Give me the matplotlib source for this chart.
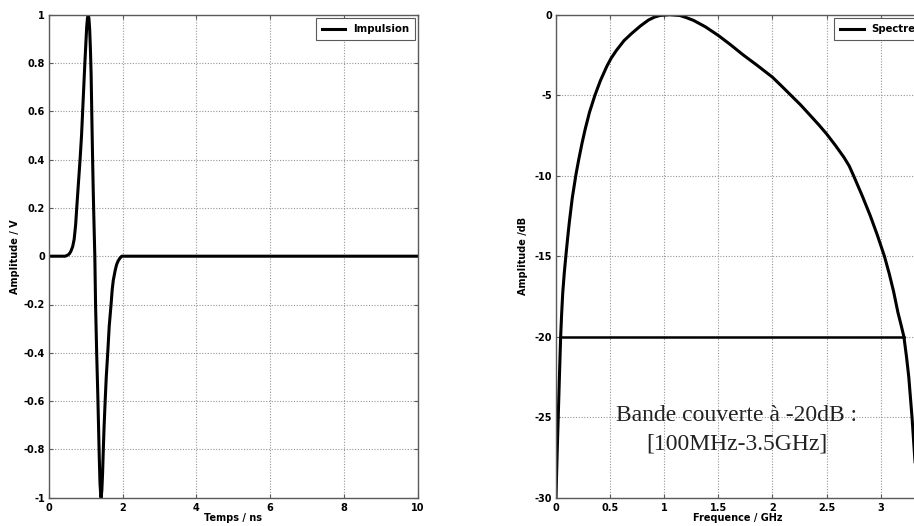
import matplotlib
matplotlib.use("Agg")
import matplotlib.pyplot as plt

# ---- data ----
pulse_t = [0.0, 0.45, 0.52, 0.56, 0.60, 0.65, 0.69, 0.73, 0.76, 0.80, 0.85, 0.89, 0.92,
           0.95, 0.98, 1.01, 1.03, 1.05, 1.07, 1.09, 1.11, 1.13, 1.15, 1.17, 1.19, 1.21,
           1.23, 1.25, 1.27, 1.30, 1.33, 1.35, 1.37, 1.39, 1.41, 1.42, 1.44, 1.46, 1.48,
           1.50, 1.53, 1.56, 1.60, 1.64, 1.69, 1.72, 1.75, 1.80, 1.84, 1.88, 1.93, 1.98, 10.0]
pulse_v = [0.0, 0.0, 0.005, 0.01, 0.02, 0.04, 0.07, 0.13, 0.20, 0.29, 0.40, 0.50, 0.60,
           0.70, 0.80, 0.89, 0.95, 0.985, 1.0, 0.985, 0.94, 0.86, 0.75, 0.57, 0.40, 0.25,
           0.12, 0.0, -0.20, -0.40, -0.57, -0.70, -0.83, -0.94, -0.99, -1.0, -0.97, -0.90, -0.80,
           -0.71, -0.60, -0.50, -0.40, -0.29, -0.20, -0.14, -0.10, -0.06, -0.035, -0.02, -0.008, 0.0, 0.0]

spec_f = [0.0, 0.010, 0.021, 0.032, 0.043, 0.052, 0.062, 0.077, 0.093, 0.108, 0.123, 0.15,
          0.185, 0.21, 0.24, 0.27, 0.31, 0.36, 0.41, 0.47, 0.51, 0.56, 0.63, 0.70, 0.78,
          0.855, 0.91, 0.96, 1.05, 1.145, 1.20, 1.27, 1.38, 1.50, 1.61, 1.73, 1.86, 2.00,
          2.08, 2.17, 2.26, 2.35, 2.43, 2.50, 2.58, 2.66, 2.71, 2.75, 2.83, 2.905, 2.97,
          3.035, 3.08, 3.12, 3.16, 3.19, 3.215, 3.24, 3.26, 3.29, 3.31, 3.33]
spec_db = [-30.0, -27.4, -24.9, -22.4, -20.0, -18.6, -17.3, -16.0, -14.85, -13.85, -12.9, -11.4,
           -9.9, -9.0, -8.0, -7.1, -6.05, -5.0, -4.1, -3.2, -2.7, -2.2, -1.6, -1.16, -0.7,
           -0.33, -0.15, -0.05, 0.0, -0.05, -0.17, -0.35, -0.75, -1.29, -1.85, -2.5, -3.15, -3.88,
           -4.4, -5.0, -5.6, -6.26, -6.85, -7.4, -8.1, -8.85, -9.4, -10.0, -11.25, -12.5, -13.7,
           -15.0, -16.1, -17.2, -18.5, -19.3, -20.0, -21.3, -22.5, -25.0, -27.0, -29.0]

band_f = [0.043, 3.215]
band_db = [-20.0, -20.0]

left_xticks = [0, 2, 4, 6, 8, 10]
left_xlabels = ["0", "2", "4", "6", "8", "10"]
left_yticks = [1, 0.8, 0.6, 0.4, 0.2, 0, -0.2, -0.4, -0.6, -0.8, -1]
left_ylabels = ["1", "0.8", "0.6", "0.4", "0.2", "0", "-0.2", "-0.4", "-0.6", "-0.8", "-1"]
right_xticks = [0, 0.5, 1, 1.5, 2, 2.5, 3]
right_xlabels = ["0", "0.5", "1", "1.5", "2", "2.5", "3"]
right_yticks = [0, -5, -10, -15, -20, -25, -30]
right_ylabels = ["0", "-5", "-10", "-15", "-20", "-25", "-30"]

annot_lines = ["Bande couverte à -20dB :", "[100MHz-3.5GHz]"]

plt.rcParams['font.family'] = ['DejaVu Sans']

W, H = 914, 526
fig = plt.figure(figsize=(W / 100, H / 100), dpi=100)

AX_T, AX_B = 14.7, 497.7
AX_H = AX_B - AX_T


def px_axes(l, r):
    return fig.add_axes([l / W, (H - AX_B) / H, (r - l) / W, AX_H / H])


L1, R1 = 48.7, 417.7
L2, R2 = 556.0, 925.0
ax1 = px_axes(L1, R1)
ax2 = px_axes(L2, R2)

spine_col = '#5a5a5a'
for ax in (ax1, ax2):
    for s in ax.spines.values():
        s.set_color(spine_col)
        s.set_linewidth(1.0)
    ax.grid(True, color='#969696', linestyle=(0, (1, 1.5)), linewidth=0.8)
    ax.set_axisbelow(True)
    ax.tick_params(axis='y', direction='in', length=3, width=0.8, color=spine_col,
                   labelsize=7, pad=2.7, right=True)
    ax.tick_params(axis='x', direction='in', length=3, width=0.8, color=spine_col,
                   labelsize=7, pad=3.5, top=True)

lab_font = dict(fontsize=7, fontweight='bold')

ax1.plot(pulse_t, pulse_v, color='black', linewidth=2.2, label='Impulsion')
ax1.set_xlim(0, 10)
ax1.set_ylim(-1, 1)
ax1.set_xticks(left_xticks)
ax1.set_xticklabels(left_xlabels, fontweight='bold')
ax1.set_yticks(left_yticks)
ax1.set_yticklabels(left_ylabels, fontweight='bold')
ax1.set_xlabel('Temps / ns', **lab_font)
ax1.set_ylabel('Amplitude / V', **lab_font)
ax1.yaxis.set_label_coords((15 - L1) / (R1 - L1), 0.5)
ax1.xaxis.set_label_coords(0.5, -(518.3 - AX_B) / AX_H)
ax1.xaxis.label.set_va('center')
ax1.yaxis.label.set_va('center')

ax2.plot(spec_f, spec_db, color='black', linewidth=2.2, label='Spectre')
ax2.plot(band_f, band_db, color='black', linewidth=1.8)
ax2.set_xlim(0, 3.41)
ax2.set_ylim(-30, 0)
ax2.set_xticks(right_xticks)
ax2.set_xticklabels(right_xlabels, fontweight='bold')
ax2.set_yticks(right_yticks)
ax2.set_yticklabels(right_ylabels, fontweight='bold')
ax2.set_xlabel('Frequence / GHz', **lab_font)
ax2.set_ylabel('Amplitude /dB', **lab_font)
ax2.yaxis.set_label_coords((523 - L2) / (R2 - L2), 0.5)
ax2.xaxis.set_label_coords((738 - L2) / (R2 - L2), -(518.3 - AX_B) / AX_H)
ax2.xaxis.label.set_va('center')
ax2.yaxis.label.set_va('center')

serif = ['Liberation Serif', 'DejaVu Serif']
ax2.text(1.67, -24.9, annot_lines[0], ha='center', va='center',
         fontsize=17, family=serif, color='#222222')
ax2.text(1.67, -26.65, annot_lines[1], ha='center', va='center',
         fontsize=17, family=serif, color='#222222')

leg_top = 1 - (18.3 - AX_T) / AX_H
for ax, right_px, L, R in ((ax1, 415.0, L1, R1), (ax2, 921.0, L2, R2)):
    leg = ax.legend(loc='upper right', bbox_to_anchor=((right_px - L) / (R - L), leg_top),
                    fancybox=False, framealpha=1, edgecolor=spine_col,
                    prop={'weight': 'bold', 'size': 7.3},
                    handlelength=2.3, handletextpad=0.72, borderaxespad=0.0,
                    borderpad=0.6)
    leg.get_frame().set_linewidth(0.8)

fig.savefig('out.png', dpi=100)
